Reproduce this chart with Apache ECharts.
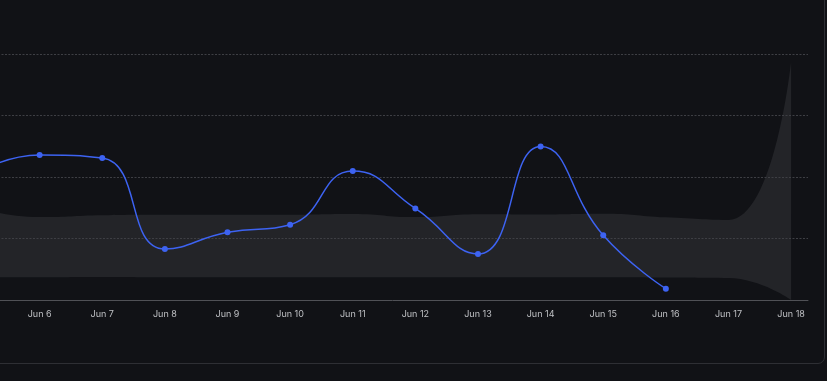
<!DOCTYPE html>
<html>
<head>
<meta charset="utf-8">
<script src="https://cdn.jsdelivr.net/npm/echarts@6/dist/echarts.min.js"></script>
<style>
  html, body { margin: 0; padding: 0; width: 827px; height: 381px; overflow: hidden; background: #111216; }
  #card { position: absolute; left: -20px; top: -20px; width: 845px; height: 384px; border: 1px solid #2e2f34; border-radius: 7px; box-sizing: border-box; }
  #chart { position: absolute; left: -23px; top: 0; width: 850px; height: 381px; }
</style>
</head>
<body>
<div id="card"></div>
<div id="chart"></div>
<script>
const days = [5, 6, 7, 8, 9, 10, 11, 12, 13, 14, 15, 16, 17, 18];
const monthLabel = 'Jun';
const actualValues = [52, 58.9, 57.7, 20.7, 27.5, 30.6, 52.4, 37.2, 18.7, 62.4, 26.3, 4.6, null, null];
const bandLower = [9.2, 9.2, 9.3, 9.2, 9.2, 9.2, 9.2, 9.2, 9.2, 9.2, 9.2, 9.1, 8.9, 0];
const bandUpper = [37.5, 33.7, 34.5, 34.7, 34.7, 34.7, 35.0, 33.7, 34.9, 34.8, 35.1, 33.6, 32.5, 96.7];
const yTicks = [0, 25, 50, 75, 100];

const BG = '#111216';
const chart = echarts.init(document.getElementById('chart'), null, { renderer: 'canvas' });
const pair = (arr) => days.map((d, i) => [d, arr[i]]);
chart.setOption({
  backgroundColor: 'transparent',
  animation: false,
  grid: { left: 0, right: 19, top: 54, bottom: 81, containLabel: false, outerBoundsMode: 'none' },
  xAxis: {
    type: 'value',
    min: days[0],
    max: 18.27,
    interval: 1,
    z: 5,
    axisLine: { show: true, lineStyle: { color: '#505156', width: 1 } },
    axisTick: { show: false },
    splitLine: { show: false },
    axisLabel: {
      color: '#bfc0c4', fontSize: 9, fontFamily: 'Inter', margin: 10,
      showMaxLabel: false, showMinLabel: false, hideOverlap: false,
      formatter: (v) => Number.isInteger(v) && days.includes(v) ? monthLabel + ' ' + v : ''
    }
  },
  yAxis: {
    type: 'value',
    min: yTicks[0], max: yTicks[yTicks.length - 1], interval: 25,
    z: 5,
    axisLine: { show: false }, axisTick: { show: false },
    axisLabel: { show: false },
    splitLine: { show: true, lineStyle: { color: '#3e3f44', type: [2, 1.5], width: 1 } }
  },
  series: [
    {
      type: 'line', data: pair(bandUpper), smooth: true,
      symbol: 'none', lineStyle: { width: 0, opacity: 0 },
      areaStyle: { color: '#232428', opacity: 1, origin: 'start' }, z: 1
    },
    {
      type: 'line', data: pair(bandLower), smooth: true,
      symbol: 'none', lineStyle: { width: 0, opacity: 0 },
      areaStyle: { color: BG, opacity: 1, origin: 'start' }, z: 2
    },
    {
      type: 'line', data: pair(actualValues), smooth: true, connectNulls: false,
      symbol: 'circle', symbolSize: 6, showSymbol: true,
      lineStyle: { color: '#3d63f2', width: 1.5 },
      itemStyle: { color: '#3d63f2' }, z: 8
    }
  ]
});
</script>
</body>
</html>
